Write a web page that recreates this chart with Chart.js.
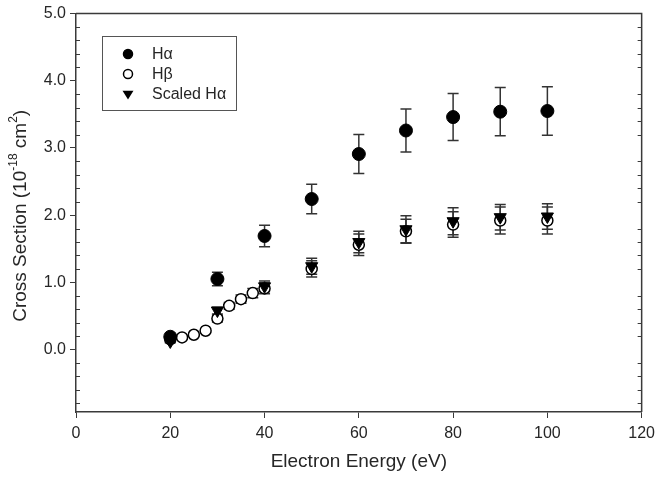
<!DOCTYPE html>
<html>
<head>
<meta charset="utf-8">
<script src="https://cdn.jsdelivr.net/npm/chart.js@4"></script>
<style>
  html, body { margin: 0; padding: 0; background: #fff; }
  #wrap { width: 661px; height: 478px; }
</style>
</head>
<body>
<div id="wrap"><canvas id="chart"></canvas></div>
<script>
// data
const energies = [20, 30, 40, 50, 60, 70, 80, 90, 100]
const haValues = [0.19, 1.05, 1.69, 2.24, 2.91, 3.26, 3.46, 3.54, 3.55]
const haErrors = [0.03, 0.10, 0.16, 0.22, 0.29, 0.32, 0.35, 0.36, 0.36]
const scaledValues = [0.12, 0.58, 0.94, 1.24, 1.60, 1.79, 1.91, 1.97, 1.98]
const scaledErrors = [0.02, 0.05, 0.08, 0.12, 0.16, 0.20, 0.20, 0.19, 0.19]
const hbEnergies = [20, 22.5, 25, 27.5, 30, 32.5, 35, 37.5, 40, 50, 60, 70, 80, 90, 100]
const hbValues = [0.15, 0.18, 0.22, 0.28, 0.46, 0.65, 0.75, 0.84, 0.91, 1.20, 1.56, 1.76, 1.86, 1.92, 1.92]
const hbErrors = [0.02, 0.02, 0.02, 0.03, 0.05, 0.05, 0.06, 0.07, 0.08, 0.12, 0.16, 0.18, 0.19, 0.20, 0.20]

const xTicks = [0, 20, 40, 60, 80, 100, 120]
const yTicks = [0, 1, 2, 3, 4, 5]
const yMinor = [-0.8, -0.6, -0.4, -0.2, 0.2, 0.4, 0.6, 0.8, 1.2, 1.4, 1.6, 1.8, 2.2, 2.4, 2.6, 2.8,
  3.2, 3.4, 3.6, 3.8, 4.2, 4.4, 4.6, 4.8]

const legendItems = ['H\u03B1', 'H\u03B2', 'Scaled H\u03B1']

const axisColor = '#3a3a3a'
const textColor = '#262626'
const font = 'Arial, "Liberation Sans", sans-serif'

const toPoints = (xs, ys) => xs.map((x, i) => ({ x, y: ys[i] }))

function drawMarker(ctx, kind, x, y, r) {
  ctx.save()
  ctx.lineWidth = 1.5
  ctx.strokeStyle = '#000'
  ctx.beginPath()
  if (kind === 'tri') {
    ctx.moveTo(x - r, y - r * 0.6)
    ctx.lineTo(x + r, y - r * 0.6)
    ctx.lineTo(x, y + r)
    ctx.closePath()
    ctx.fillStyle = '#000'
    ctx.fill()
  } else {
    ctx.arc(x, y, r, 0, Math.PI * 2)
    ctx.fillStyle = kind === 'open' ? '#fff' : '#000'
    ctx.fill()
    ctx.stroke()
  }
  ctx.restore()
}

const errorBars = {
  id: 'errorBars',
  beforeDatasetsDraw(chart) {
    const { ctx } = chart
    const y = chart.scales.y
    ctx.save()
    ctx.strokeStyle = '#333'
    ctx.lineWidth = 1.5
    chart.data.datasets.forEach((ds, di) => {
      const meta = chart.getDatasetMeta(di)
      ds.data.forEach((p, i) => {
        const e = ds.errors[i]
        const px = meta.data[i].x
        const top = y.getPixelForValue(p.y + e)
        const bot = y.getPixelForValue(p.y - e)
        ctx.beginPath()
        ctx.moveTo(px, top)
        ctx.lineTo(px, bot)
        ctx.moveTo(px - 5.5, top)
        ctx.lineTo(px + 5.5, top)
        ctx.moveTo(px - 5.5, bot)
        ctx.lineTo(px + 5.5, bot)
        ctx.stroke()
      })
    })
    ctx.restore()
  }
}

const frame = {
  id: 'frame',
  afterDraw(chart) {
    const { ctx, chartArea: a } = chart
    const y = chart.scales.y

    ctx.save()
    ctx.strokeStyle = axisColor
    ctx.lineWidth = 1.5
    ctx.beginPath()
    ctx.moveTo(a.left, a.top)
    ctx.lineTo(a.right, a.top)
    ctx.lineTo(a.right, a.bottom)
    ctx.stroke()

    // minor ticks, inside on both sides
    ctx.lineWidth = 1
    ctx.beginPath()
    yMinor.forEach(v => {
      const py = Math.round(y.getPixelForValue(v)) + 0.5
      ctx.moveTo(a.left, py)
      ctx.lineTo(a.left + 4, py)
      ctx.moveTo(a.right, py)
      ctx.lineTo(a.right - 4, py)
    })
    ctx.stroke()

    // axis titles
    ctx.fillStyle = textColor
    ctx.textBaseline = 'middle'
    ctx.font = `19px ${font}`
    ctx.textAlign = 'center'
    ctx.fillText('Electron Energy (eV)', (a.left + a.right) / 2, 462)

    ctx.translate(21, (a.top + a.bottom) / 2 + 3)
    ctx.rotate(-Math.PI / 2)
    const parts = [
      ['Cross Section (10', 19, 0],
      ['-18', 12, -7],
      [' cm', 19, 0],
      ['2', 12, -7],
      [')', 19, 0]
    ]
    let total = 0
    parts.forEach(([t, s]) => { ctx.font = `${s}px ${font}`; total += ctx.measureText(t).width })
    let cx = -total / 2
    ctx.textAlign = 'left'
    parts.forEach(([t, s, dy]) => {
      ctx.font = `${s}px ${font}`
      ctx.fillText(t, cx, dy)
      cx += ctx.measureText(t).width
    })
    ctx.restore()

    // legend box
    ctx.save()
    ctx.strokeStyle = '#555'
    ctx.lineWidth = 1
    ctx.strokeRect(102.5, 36.5, 134, 74)
    const kinds = ['filled', 'open', 'tri']
    ctx.font = `16px ${font}`
    ctx.fillStyle = textColor
    ctx.textBaseline = 'middle'
    legendItems.forEach((label, i) => {
      const ly = 54 + i * 20
      drawMarker(ctx, kinds[i], 128, ly, kinds[i] === 'tri' ? 5.5 : 4.5)
      ctx.fillText(label, 152, ly + 1)
    })
    ctx.restore()
  }
}

new Chart(document.getElementById('chart'), {
  type: 'scatter',
  data: {
    datasets: [
      {
        label: legendItems[0],
        data: toPoints(energies, haValues),
        errors: haErrors,
        pointStyle: 'circle',
        pointRadius: 6.5,
        pointBackgroundColor: '#000',
        pointBorderColor: '#000',
        pointBorderWidth: 1,
        order: 1
      },
      {
        label: legendItems[2],
        data: toPoints(energies, scaledValues),
        errors: scaledErrors,
        pointStyle: 'triangle',
        rotation: 180,
        pointRadius: 7,
        pointBackgroundColor: '#000',
        pointBorderColor: '#000',
        pointBorderWidth: 1,
        order: 2
      },
      {
        label: legendItems[1],
        data: toPoints(hbEnergies, hbValues),
        errors: hbErrors,
        pointStyle: 'circle',
        pointRadius: 5.5,
        pointBackgroundColor: '#fff',
        pointBorderColor: '#000',
        pointBorderWidth: 1.5,
        order: 3
      }
    ]
  },
  options: {
    responsive: true,
    maintainAspectRatio: false,
    animation: false,
    layout: { padding: { left: 0, right: 14, top: 11, bottom: 0 } },
    plugins: {
      legend: { display: false },
      tooltip: { enabled: false }
    },
    scales: {
      x: {
        type: 'linear',
        min: 0,
        max: 120,
        afterBuildTicks: s => { s.ticks = xTicks.map(v => ({ value: v })) },
        afterFit: s => { s.height = 66 },
        ticks: { color: textColor, font: { family: font, size: 16 }, padding: 6 },
        grid: { drawOnChartArea: false, tickLength: 6, color: axisColor, lineWidth: 1 },
        border: { color: axisColor, width: 1.5 }
      },
      y: {
        type: 'linear',
        min: -0.93,
        max: 5,
        afterBuildTicks: s => { s.ticks = yTicks.map(v => ({ value: v })) },
        afterFit: s => { s.width = 76 },
        ticks: {
          color: textColor,
          font: { family: font, size: 16 },
          padding: 4,
          callback: v => v.toFixed(1)
        },
        grid: { drawOnChartArea: false, tickLength: 6, color: axisColor, lineWidth: 1 },
        border: { color: axisColor, width: 1.5 }
      }
    }
  },
  plugins: [errorBars, frame]
})
</script>
</body>
</html>
